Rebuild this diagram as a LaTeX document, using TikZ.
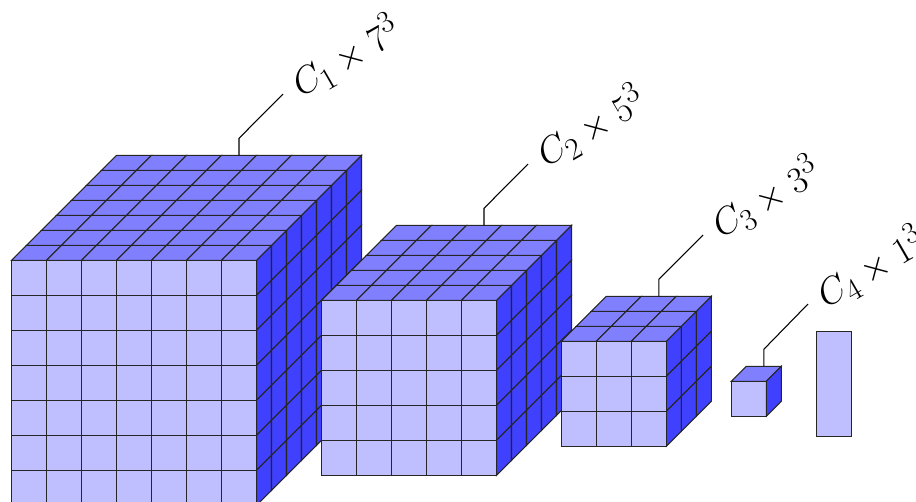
\documentclass[tikz,border=0pt]{standalone}
\newcommand{\cubegrid}[4]{% x, y (front top-left, px), n, name
  \pgfmathtruncatemacro{\nn}{#3-1}
  \foreach \i in {0,...,\nn}{\foreach \j in {0,...,\nn}{
    \draw[frontface] (#1+35*\i,#2+35*\j) rectangle ++(35,35);
    \draw[topface] (#1+35*\i+15*\j,#2-15*\j) -- ++(35,0) -- ++(15,-15) -- ++(-35,0) -- cycle;
    \draw[sideface] (#1+35*#3+15*\j,#2+35*\i-15*\j) -- ++(15,-15) -- ++(0,35) -- ++(-15,15) -- cycle;
  }}
  \coordinate (#4) at (#1+32.5*#3,#2-15*#3);
}
\tikzset{
  frontface/.style={fill=blue!25,draw=black!85,line width=0.8pt,line join=miter},
  topface/.style={fill=blue!50,draw=black!85,line width=0.8pt},
  sideface/.style={fill=blue!75,draw=black!85,line width=0.8pt},
  leader/.style={draw=black,line width=0.8pt},
  caption/.style={font=\Huge,rotate=30,scale=1.12,anchor=base west,inner sep=0pt}
}
\begin{document}
\begin{tikzpicture}[x=0.75pt,y=-0.75pt]
\useasboundingbox (0,0) rectangle (916,501);
\clip (0,0) rectangle (916,501);
\cubegrid{11.5}{260.3}{7}{a}
\cubegrid{321.5}{300.3}{5}{b}
\cubegrid{561.3}{341.3}{3}{c}
\cubegrid{731.3}{381.3}{1}{d}
\node[frontface,minimum width=26.25pt,minimum height=78.75pt,inner sep=0pt,anchor=north west,outer sep=0pt] (e) at (816.3,331.3) {};
\node[caption] (la) at (301,98) {$C_1\times 7^3$};
\node[caption] (lb) at (546,168) {$C_2\times 5^3$};
\node[caption] (lc) at (721,239) {$C_3\times 3^3$};
\node[caption] (ld) at (826,309) {$C_4\times 1^3$};
\coordinate (ae) at (283,94);
\coordinate (be) at (528,164);
\coordinate (ce) at (703,235);
\coordinate (de) at (808,304);
\draw[leader] (a) -- ++(0,-17) -- (ae);
\draw[leader] (b) -- ++(0,-17) -- (be);
\draw[leader] (c) -- ++(0,-17) -- (ce);
\draw[leader] (d) -- ++(0,-17) -- (de);
\end{tikzpicture}
\end{document}
